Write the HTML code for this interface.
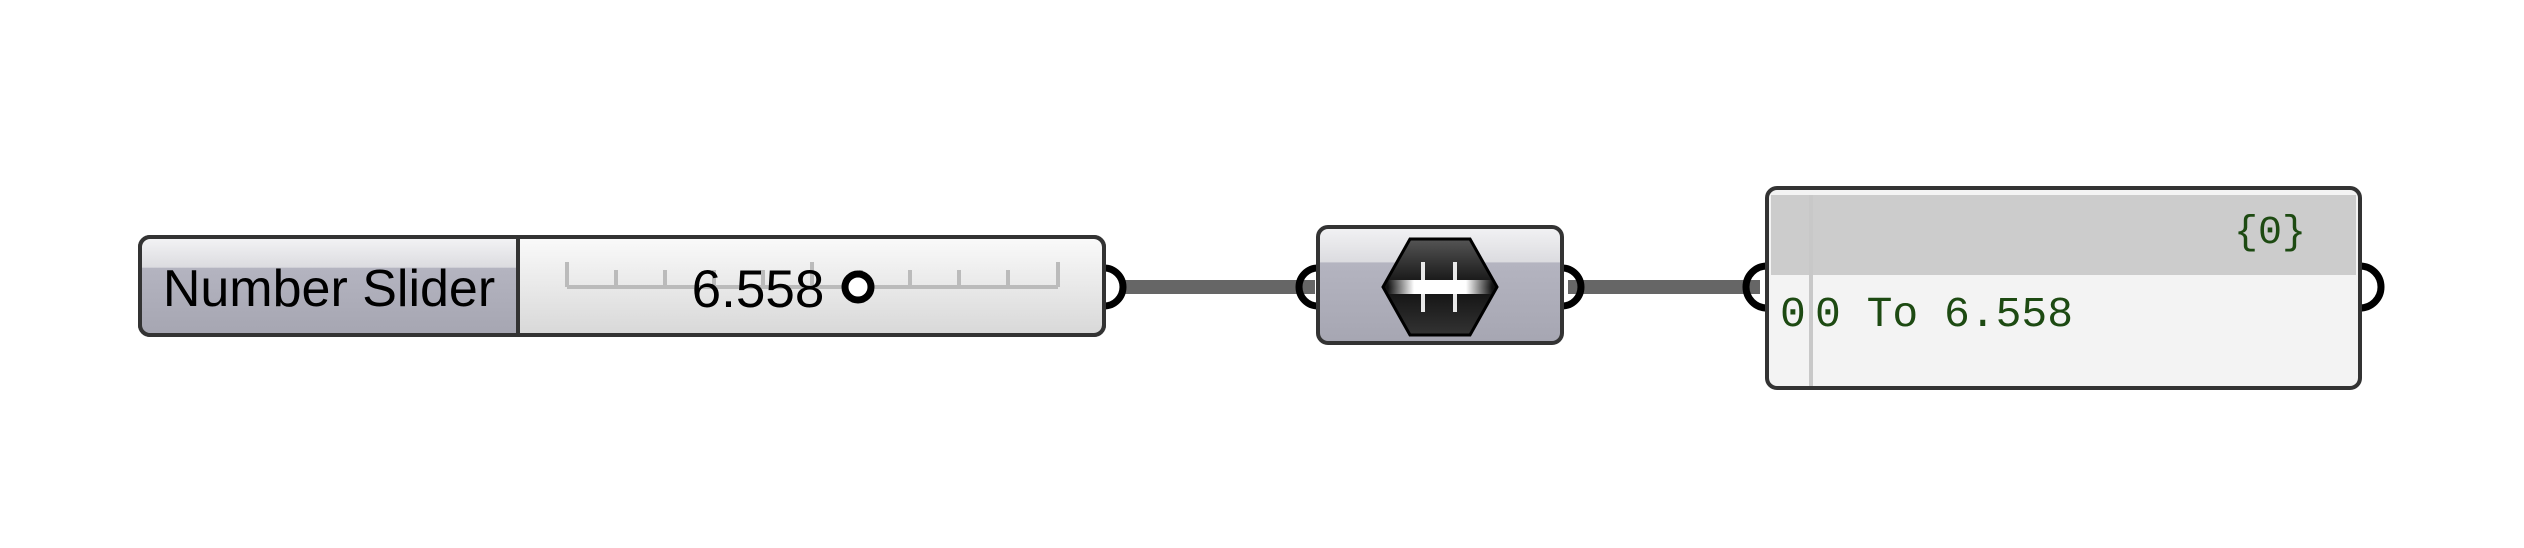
<!DOCTYPE html>
<html><head><style>html,body{margin:0;padding:0;background:#fff;width:2524px;height:548px;overflow:hidden}</style></head>
<body>
<svg width="2524" height="548" xmlns="http://www.w3.org/2000/svg">
<defs>
<linearGradient id="lg" x1="0" y1="0" x2="0" y2="1">
<stop offset="0" stop-color="#f2f2f4"/><stop offset="0.3" stop-color="#dcdce0"/><stop offset="0.31" stop-color="#b4b4c0"/><stop offset="1" stop-color="#a6a6b2"/></linearGradient>
<linearGradient id="rg" x1="0" y1="0" x2="0" y2="1">
<stop offset="0" stop-color="#fafafa"/><stop offset="1" stop-color="#d8d8d8"/></linearGradient>
<linearGradient id="hx" x1="0" y1="0" x2="0" y2="1">
<stop offset="0" stop-color="#555"/><stop offset="0.5" stop-color="#111"/><stop offset="1" stop-color="#333"/></linearGradient>
<linearGradient id="bar" x1="0" y1="0" x2="1" y2="0">
<stop offset="0" stop-color="#fff" stop-opacity="0"/><stop offset="0.25" stop-color="#fff"/><stop offset="0.75" stop-color="#fff"/><stop offset="1" stop-color="#fff" stop-opacity="0"/></linearGradient>
</defs>
<!-- wires -->
<rect x="1120" y="280" width="195" height="14" fill="#666"/>
<rect x="1568" y="280" width="192" height="14" fill="#666"/>
<!-- slider -->
<path d="M1104 268 a19 19 0 0 1 0 38" fill="none" stroke="#000" stroke-width="7"/>
<rect x="140" y="237" width="964" height="98" rx="10" fill="url(#rg)" stroke="#333" stroke-width="4"/>
<path d="M150 239 H518 V333 H150 a8 8 0 0 1 -8 -8 V247 a8 8 0 0 1 8 -8z" fill="url(#lg)"/>
<line x1="518" y1="237" x2="518" y2="335" stroke="#333" stroke-width="4"/>
<rect x="140" y="237" width="964" height="98" rx="10" fill="none" stroke="#333" stroke-width="4"/>
<g stroke="#bbb" stroke-width="4">
<line x1="567" y1="287" x2="1058" y2="287"/>
<line x1="567" y1="262" x2="567" y2="287"/><line x1="616" y1="270" x2="616" y2="287"/><line x1="665" y1="270" x2="665" y2="287"/><line x1="714" y1="270" x2="714" y2="287"/><line x1="763" y1="270" x2="763" y2="287"/><line x1="812" y1="262" x2="812" y2="287"/><line x1="861" y1="270" x2="861" y2="287"/><line x1="910" y1="270" x2="910" y2="287"/><line x1="959" y1="270" x2="959" y2="287"/><line x1="1008" y1="270" x2="1008" y2="287"/><line x1="1058" y1="262" x2="1058" y2="287"/>
</g>
<text x="329" y="306" font-family="Liberation Sans, sans-serif" font-size="52" text-anchor="middle" fill="#000">Number Slider</text>
<text x="758" y="307" font-family="Liberation Sans, sans-serif" font-size="53" text-anchor="middle" fill="#000">6.558</text>
<circle cx="858" cy="287" r="13" fill="#fff" stroke="#000" stroke-width="7"/>
<!-- component -->
<path d="M1318 268 a19 19 0 0 0 0 38" fill="none" stroke="#000" stroke-width="7"/>
<path d="M1562 268 a19 19 0 0 1 0 38" fill="none" stroke="#000" stroke-width="7"/>
<rect x="1318" y="227" width="244" height="116" rx="10" fill="url(#lg)" stroke="#333" stroke-width="4"/>
<polygon points="1383,287 1410,239 1470,239 1497,287 1470,335 1410,335" fill="url(#hx)" stroke="#000" stroke-width="3"/>
<rect x="1388" y="280" width="104" height="14" fill="url(#bar)"/>
<rect x="1421" y="262" width="4" height="50" fill="#fff" opacity="0.9"/>
<rect x="1453" y="262" width="4" height="50" fill="#fff" opacity="0.9"/>
<!-- panel -->
<path d="M1767 266 a21 21 0 0 0 0 42" fill="none" stroke="#000" stroke-width="7"/>
<path d="M2360 266 a21 21 0 0 1 0 42" fill="none" stroke="#000" stroke-width="7"/>
<rect x="1767" y="188" width="593" height="200" rx="10" fill="#f3f3f3" stroke="#333" stroke-width="4"/>
<rect x="1771" y="195" width="585" height="80" fill="#cccccc"/>
<line x1="1811" y1="195" x2="1811" y2="386" stroke="#c8c8c8" stroke-width="4"/>
<text x="2306" y="243" font-family="Liberation Mono, monospace" font-size="40" text-anchor="end" fill="#1d4a12">{0}</text>
<text x="1780" y="326" font-family="Liberation Mono, monospace" font-size="43" fill="#1d4a12">0</text>
<text x="1815" y="326" font-family="Liberation Mono, monospace" font-size="43" fill="#1d4a12">0 To 6.558</text>
</svg>
</body></html>
